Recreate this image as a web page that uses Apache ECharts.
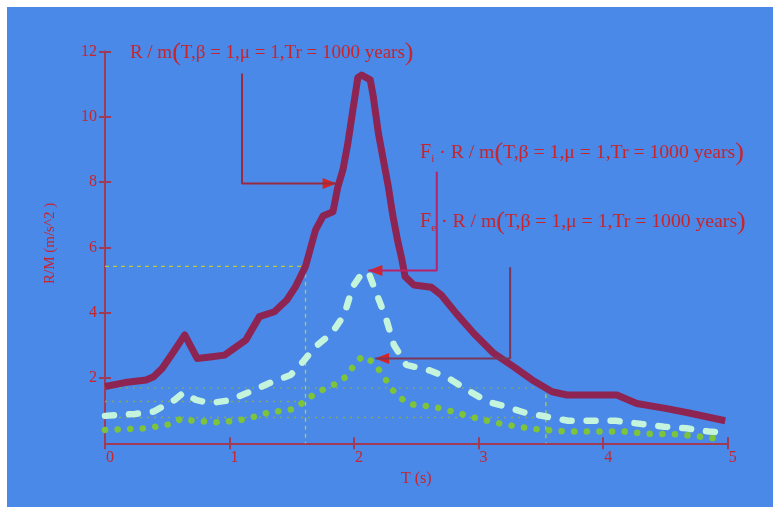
<!DOCTYPE html>
<html>
<head>
<meta charset="utf-8">
<script src="https://cdn.jsdelivr.net/npm/echarts@6/dist/echarts.min.js"></script>
<style>
html,body{margin:0;padding:0;background:#ffffff;width:773px;height:507px;overflow:hidden;}
#bg{position:absolute;left:7px;top:7px;right:0;bottom:0;background:#4a89e8;}
#chart{position:absolute;left:0;top:0;width:773px;height:507px;}
</style>
</head>
<body>
<div id="bg"></div>
<div id="chart"></div>
<script>
// ---- data ----
const xTicks = [0, 1, 2, 3, 4, 5];
const yTicks = [2, 4, 6, 8, 10, 12];

// R/m spectrum (thick maroon)
const mainT = [0,0.16,0.33,0.39,0.46,0.56,0.64,0.74,0.86,0.96,1.13,1.24,1.36,1.46,1.53,1.61,1.69,1.75,1.83,1.87,1.91,1.95,1.99,2.03,2.06,2.13,2.155,2.195,2.235,2.275,2.31,2.35,2.38,2.41,2.48,2.62,2.7,2.82,2.96,3.12,3.28,3.43,3.59,3.71,4.11,4.27,4.5,4.7,4.98];
const mainV = [1.74,1.86,1.94,2.04,2.3,2.86,3.32,2.6,2.65,2.7,3.16,3.88,4.03,4.39,4.8,5.42,6.53,6.96,7.09,7.86,8.37,9.19,10.2,11.2,11.28,11.13,10.6,9.5,8.68,7.86,7.0,6.2,5.7,5.1,4.85,4.78,4.54,3.98,3.37,2.76,2.35,1.94,1.58,1.48,1.48,1.22,1.07,0.92,0.69];

// Fi * R/m (light dashed)
const fiT = [0,0.24,0.39,0.56,0.63,0.73,0.84,0.99,1.18,1.33,1.49,1.59,1.69,1.82,1.92,1.99,2.07,2.12,2.19,2.26,2.32,2.42,2.61,2.76,2.91,3.07,3.22,3.37,3.54,3.72,3.92,4.1,4.31,4.49,4.67,4.85,4.99];
const fiV = [0.84,0.9,0.97,1.33,1.55,1.33,1.23,1.31,1.6,1.86,2.09,2.5,2.96,3.37,3.93,4.8,5.25,5.19,4.49,3.78,3.01,2.4,2.23,1.99,1.63,1.28,1.12,0.94,0.82,0.69,0.69,0.69,0.59,0.51,0.46,0.36,0.33];

// Fe * R/m (green dotted)
const feT = [0,0.33,0.53,0.61,0.71,0.93,1.13,1.31,1.52,1.61,1.69,1.78,1.88,1.95,2.01,2.07,2.16,2.22,2.27,2.32,2.37,2.44,2.54,2.64,2.74,2.83,2.92,3.02,3.12,3.31,3.51,3.72,4.06,4.17,4.37,4.59,4.79,4.9];
const feV = [0.41,0.46,0.59,0.75,0.69,0.64,0.74,0.94,1.05,1.31,1.53,1.7,1.87,2.09,2.47,2.67,2.47,2.14,1.86,1.58,1.4,1.2,1.16,1.12,1.02,0.94,0.82,0.74,0.64,0.51,0.41,0.36,0.36,0.36,0.29,0.28,0.2,0.15];

// guide lines
const guideA = [[0,5.42],[1.61,5.42],[1.61,0]];
const guideB = [[0,1.70],[3.54,1.70]];
const guideC = [[3.54,1.75],[3.54,0]];
const guideD = [[0,1.28],[1.61,1.28]];
const guideE = [[0,0.79],[3.54,0.79]];

// annotation arrows (start, corner, tip)
const arrow1 = [[1.10,11.33],[1.10,7.96],[1.86,7.96]];
const arrow2 = [[2.664,8.32],[2.664,5.29],[2.115,5.29]];
const arrow3 = [[3.253,5.39],[3.253,2.60],[2.169,2.60]];

// annotation text anchors (left, vertical centre)
const text1Pos = [0.2, 11.95];
const text2Pos = [2.53, 8.9];
const text3Pos = [2.53, 6.78];

const zip = (a, b) => a.map((v, i) => [v, b[i]]);

const RED = '#c8242c';
const AXIS = '#a03a55';
const SERIF = '"Liberation Serif","Times New Roman",serif';

const rich = {
  t: {fontSize: 19, fontFamily: SERIF, color: RED},
  u: {fontSize: 19.7, fontFamily: SERIF, color: RED},
  p: {fontSize: 26, fontFamily: SERIF, color: RED},
  f: {fontSize: 20, fontFamily: SERIF, color: RED},
  sub: {fontSize: 11, fontFamily: SERIF, color: RED, padding: [12, 0, 0, 0]}
};
const label1 = '{t|R / m}{p|(}{t|T,β = 1,μ = 1,Tr = 1000 years}{p|)}';
const body2 = '{u| · R / m}{p|(}{u|T,β = 1,μ = 1,Tr = 1000 years}{p|)}';
const label2 = '{f|F}{sub|i}' + body2;
const label3 = '{f|F}{sub|e}' + body2;

function textPoint(pos, txt) {
  return {
    coord: pos, symbol: 'circle', symbolSize: 0,
    label: {show: true, position: [0, 0], align: 'left', verticalAlign: 'middle',
            formatter: txt, rich: rich}
  };
}
function headPoint(arr, color) {
  const tip = arr[2], corner = arr[1];
  const right = tip[0] > corner[0];
  return {
    coord: tip, symbol: 'triangle', symbolSize: [11, 14],
    symbolRotate: right ? -90 : 90, symbolOffset: [right ? -7 : 7, 0],
    itemStyle: {color: color}, label: {show: false}
  };
}
function guide(data, color, type) {
  return {type: 'line', data: data, symbol: 'none', silent: true, z: 1,
          lineStyle: {color: color, width: 1.3, type: type}};
}
function arrowLine(data, color) {
  return {type: 'line', data: data, symbol: 'none', silent: true, z: 5,
          lineStyle: {color: color, width: 2}};
}

const chart = echarts.init(document.getElementById('chart'), null, {renderer: 'canvas'});
const axisLabelStyle = {color: RED, fontFamily: SERIF, fontSize: 16};

chart.setOption({
  backgroundColor: 'transparent',
  animation: false,
  grid: {left: 105, right: 45.3, top: 51.5, bottom: 63.7, containLabel: false, outerBoundsMode: 'none'},
  xAxis: [{
    type: 'value', min: 0, max: 5, interval: 1,
    name: 'T (s)', nameLocation: 'middle', nameGap: 27,
    nameTextStyle: {color: RED, fontFamily: SERIF, fontSize: 16},
    axisLine: {show: true, onZero: false, lineStyle: {color: AXIS, width: 2}},
    axisTick: {show: true, inside: false, length: 6, lineStyle: {color: AXIS, width: 2}},
    axisLabel: Object.assign({margin: 6, padding: [0, 0, 0, 10],
      formatter: v => xTicks.includes(v) ? String(v) : ''}, axisLabelStyle),
    splitLine: {show: false}
  }, {
    type: 'value', min: 0, max: 5, interval: 1, position: 'bottom', offset: 0,
    axisLine: {show: false, onZero: false},
    axisTick: {show: true, inside: true, length: 6, lineStyle: {color: AXIS, width: 2}},
    axisLabel: {show: false}, splitLine: {show: false}
  }],
  yAxis: [{
    type: 'value', min: 0, max: 12, interval: 2,
    name: 'R/M (m/s^2 )', nameLocation: 'middle', nameGap: 47, nameRotate: 90,
    nameTextStyle: {color: RED, fontFamily: SERIF, fontSize: 15, padding: [0, 0, 0, 8]},
    axisLine: {show: true, onZero: false, lineStyle: {color: AXIS, width: 2}},
    axisTick: {show: true, inside: false, length: 6, lineStyle: {color: AXIS, width: 2}},
    axisLabel: Object.assign({margin: 8, showMinLabel: false, padding: [3, 0, 0, 0],
      formatter: v => yTicks.includes(v) ? String(v) : ''}, axisLabelStyle),
    splitLine: {show: false}
  }, {
    type: 'value', min: 0, max: 12, interval: 2, position: 'left', offset: 0,
    axisLine: {show: false, onZero: false},
    axisTick: {show: true, inside: true, length: 6, lineStyle: {color: AXIS, width: 2}},
    axisLabel: {show: false}, splitLine: {show: false}
  }],
  series: [
    guide(guideA, '#b4cc3a', [4, 4]),
    guide(guideB, '#84a866', [2, 5]),
    guide(guideC, '#b4cc3a', [4, 4]),
    guide(guideD, '#84a866', [2, 5]),
    guide(guideE, '#84a866', [2, 5]),
    {
      name: 'Fe', type: 'line', data: zip(feT, feV), symbol: 'none', z: 3,
      lineStyle: {color: '#7ec43a', width: 6.5, type: [0.1, 12.5], cap: 'round'}
    },
    {
      name: 'Fi', type: 'line', data: zip(fiT, fiV), symbol: 'none', z: 3,
      lineStyle: {color: '#c4f4dc', width: 6.5, type: [9, 15], cap: 'round'}
    },
    {
      name: 'R/m', type: 'line', data: zip(mainT, mainV), symbol: 'none', z: 4,
      lineStyle: {color: '#8e2452', width: 7, join: 'round'}
    },
    arrowLine(arrow1, '#9a2a40'),
    arrowLine(arrow2, '#b82266'),
    arrowLine(arrow3, '#7a3658'),
    {
      type: 'line', data: [], symbol: 'none', z: 6, silent: true,
      markPoint: {
        silent: true,
        data: [
          headPoint(arrow1, '#d42424'),
          headPoint(arrow2, '#d42424'),
          headPoint(arrow3, '#d42424'),
          textPoint(text1Pos, label1),
          textPoint(text2Pos, label2),
          textPoint(text3Pos, label3)
        ]
      }
    }
  ]
});
</script>
</body>
</html>
